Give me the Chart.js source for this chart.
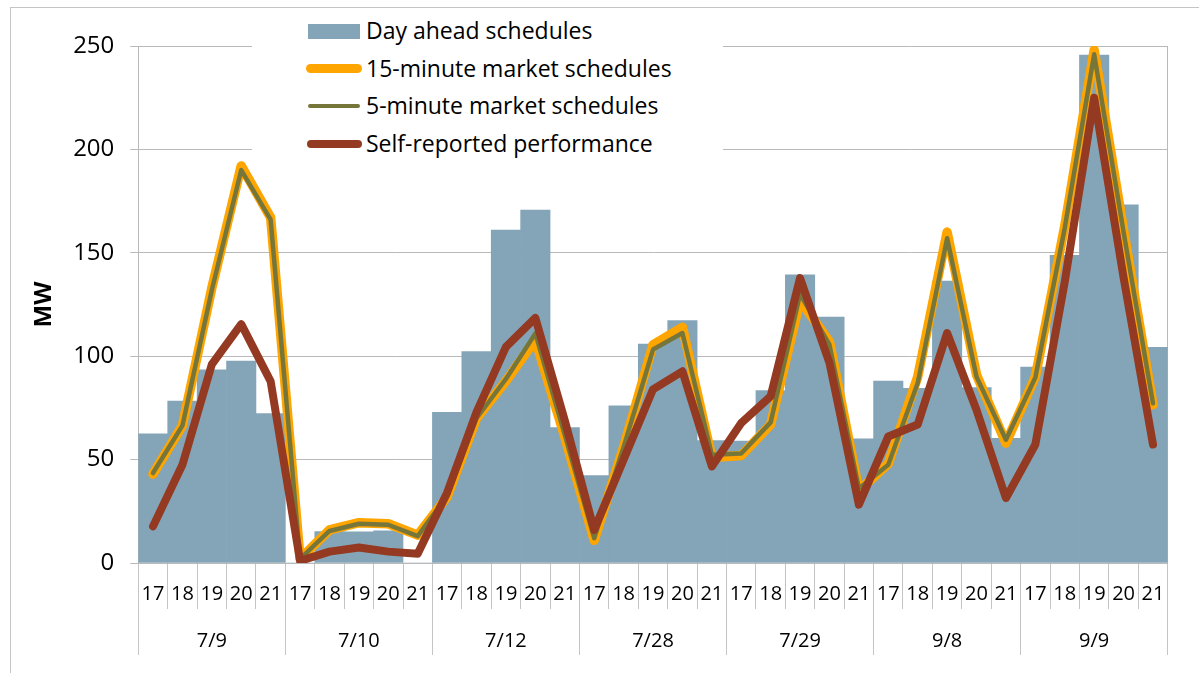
<!DOCTYPE html>
<html>
<head>
<meta charset="utf-8">
<script src="https://cdn.jsdelivr.net/npm/chart.js@4.4.1/dist/chart.umd.min.js"></script>
<style>
  html, body { margin: 0; padding: 0; background: #fff; overflow: hidden; }
  #wrap { position: relative; width: 1199px; height: 673px; }
  #frame { position: absolute; left: 10px; top: 7px; width: 1200px; height: 700px; border: 1px solid #c4c4c4; box-sizing: border-box; }
  canvas { position: absolute; left: 0; top: 0; }
  #legend { position: absolute; left: 252px; top: 10px; width: 471px; height: 158px; background: #fff;
            font-family: 'Open Sans', sans-serif; font-size: 23px; color: #000; }
  .item { position: absolute; left: 0; height: 30px; width: 471px; }
  .sw { position: absolute; }
  .lbl { position: absolute; left: 114px; top: -1px; line-height: 30px; white-space: nowrap; }
</style>
</head>
<body>
<div id="wrap">
  <div id="frame"></div>
  <canvas id="c" width="1199" height="673"></canvas>
  <div id="legend"></div>
</div>
<script>
// ---- data ----
const groups = ['7/9', '7/10', '7/12', '7/28', '7/29', '9/8', '9/9'];
const hours = ['17', '18', '19', '20', '21'];

const dayAhead = [
  62.5, 78.3, 93.4, 97.7, 72.3,
  0, 15.2, 15.1, 15.6, 0,
  72.9, 102.2, 161, 170.7, 65.5,
  42.3, 76, 105.9, 117.2, 59.2,
  58.9, 83.4, 139.3, 118.9, 60.1,
  88, 84.5, 136.3, 84.8, 60.3,
  94.7, 148.8, 245.6, 173.2, 104.3
];
const fifteenMin = [
  43, 66.5, 133, 192, 167,
  2, 16, 19.5, 19, 13.5,
  32, 70, 88, 108, 61,
  11, 56, 105.5, 114, 51,
  52, 67, 127, 107, 35,
  48, 90, 160, 91, 58,
  90, 163, 248, 161, 76.5
];
const fiveMin = [
  43.5, 66.4, 132, 190, 166,
  2, 15.5, 19, 18.5, 13,
  32.5, 70, 89, 111, 62,
  12, 56, 103.2, 111.2, 52.4,
  53, 68, 130, 105.6, 36,
  47.5, 87, 157, 90, 59.6,
  89.7, 162, 246, 160, 77.2
];
const selfReported = [
  17.7, 47.5, 96, 115.5, 87.8,
  1, 5.5, 7.5, 5.5, 4.5,
  34, 73, 104.5, 118.5, 69,
  16, 50, 84, 92.7, 46.7,
  67.7, 80.6, 137.8, 96.7, 28.2,
  61.2, 67, 111.2, 74, 31.4,
  57.3, 136, 225, 138, 57.3
];
const yTicks = { min: 0, max: 250, step: 50 };

const seriesNames = ['Day ahead schedules', '15-minute market schedules', '5-minute market schedules', 'Self-reported performance'];
const colors = { bar: '#84a5b8', orange: '#ffa500', olive: '#77763a', red: '#953a22' };

// categories: hour labels repeated for each group
const categories = [];
groups.forEach(() => hours.forEach(h => categories.push(h)));

Chart.defaults.font.family = "'Open Sans', sans-serif";
Chart.defaults.color = '#000';

const gridGray = '#b9b9b9';

new Chart(document.getElementById('c'), {
  type: 'bar',
  data: {
    labels: categories,
    datasets: [
      { type: 'line', label: seriesNames[3], data: selfReported, borderColor: colors.red, borderWidth: 8,
        pointRadius: 0, tension: 0, borderCapStyle: 'round', borderJoinStyle: 'round', order: 0 },
      { type: 'line', label: seriesNames[2], data: fiveMin, borderColor: colors.olive, borderWidth: 4.5,
        pointRadius: 0, tension: 0, borderCapStyle: 'round', borderJoinStyle: 'round', order: 1 },
      { type: 'line', label: seriesNames[1], data: fifteenMin, borderColor: colors.orange, borderWidth: 9.5,
        pointRadius: 0, tension: 0, borderCapStyle: 'round', borderJoinStyle: 'round', order: 2 },
      { type: 'bar', label: seriesNames[0], data: dayAhead, backgroundColor: colors.bar,
        barPercentage: 1, categoryPercentage: 1, order: 3 }
    ]
  },
  options: {
    responsive: false,
    animation: false,
    devicePixelRatio: 1,
    layout: { padding: { left: 26, right: 31.3, top: 46, bottom: 9 } },
    plugins: { legend: { display: false }, tooltip: { enabled: false } },
    scales: {
      x: {
        type: 'category',
        position: 'bottom',
        offset: true,
        grid: { offset: true, drawOnChartArea: false, drawTicks: true, tickLength: 46, color: '#c4c4c4' },
        border: { display: true, color: gridGray, width: 1 },
        ticks: { autoSkip: false, maxRotation: 0, minRotation: 0, padding: -27, font: { size: 20 }, color: '#000' },
        afterFit: (s) => { s.height = 46; }
      },
      x2: {
        type: 'category',
        position: 'bottom',
        labels: groups,
        offset: true,
        grid: { offset: true, drawOnChartArea: false, drawTicks: true, tickLength: 46, color: '#c4c4c4' },
        border: { display: false },
        ticks: { autoSkip: false, maxRotation: 0, minRotation: 0, padding: -26, font: { size: 20 }, color: '#000' },
        afterFit: (s) => { s.height = 55; }
      },
      y: {
        type: 'linear',
        position: 'left',
        min: yTicks.min,
        max: yTicks.max,
        ticks: { stepSize: yTicks.step, padding: 16, font: { size: 24 }, color: '#000' },
        grid: { color: gridGray, tickLength: 8, lineWidth: 1 },
        border: { display: true, color: gridGray },
        title: { display: true, text: 'MW', font: { size: 24, weight: 'bold' }, color: '#000', padding: { top: 4, bottom: 4 } },
        afterFit: (s) => { s.width = 112.3; }
      },
      yR: {
        type: 'linear',
        position: 'right',
        min: yTicks.min,
        max: yTicks.max,
        ticks: { display: false },
        grid: { display: false },
        border: { display: true, color: gridGray },
        afterFit: (s) => { s.width = 0; }
      }
    }
  }
});

// ---- legend (HTML, stacked) ----
const legend = document.getElementById('legend');
const legendRows = [
  { name: seriesNames[0], kind: 'rect', color: colors.bar, thick: 15 },
  { name: seriesNames[1], kind: 'line', color: colors.orange, thick: 9 },
  { name: seriesNames[2], kind: 'line', color: colors.olive, thick: 4.5 },
  { name: seriesNames[3], kind: 'line', color: colors.red, thick: 8 }
];
legendRows.forEach((r, i) => {
  const item = document.createElement('div');
  item.className = 'item';
  item.style.top = (6 + i * 37.5) + 'px';
  const sw = document.createElement('div');
  sw.className = 'sw';
  if (r.kind === 'rect') {
    sw.style.left = '56px'; sw.style.width = '52px';
    sw.style.height = r.thick + 'px'; sw.style.top = (15 - r.thick / 2) + 'px';
  } else {
    sw.style.left = (54 + (9 - r.thick) / 2) + 'px'; sw.style.width = (56 - (9 - r.thick)) + 'px';
    sw.style.height = r.thick + 'px'; sw.style.top = (15 - r.thick / 2) + 'px';
    sw.style.borderRadius = (r.thick / 2) + 'px';
  }
  sw.style.background = r.color;
  const lbl = document.createElement('div');
  lbl.className = 'lbl';
  lbl.textContent = r.name;
  item.appendChild(sw);
  item.appendChild(lbl);
  legend.appendChild(item);
});
</script>
</body>
</html>
